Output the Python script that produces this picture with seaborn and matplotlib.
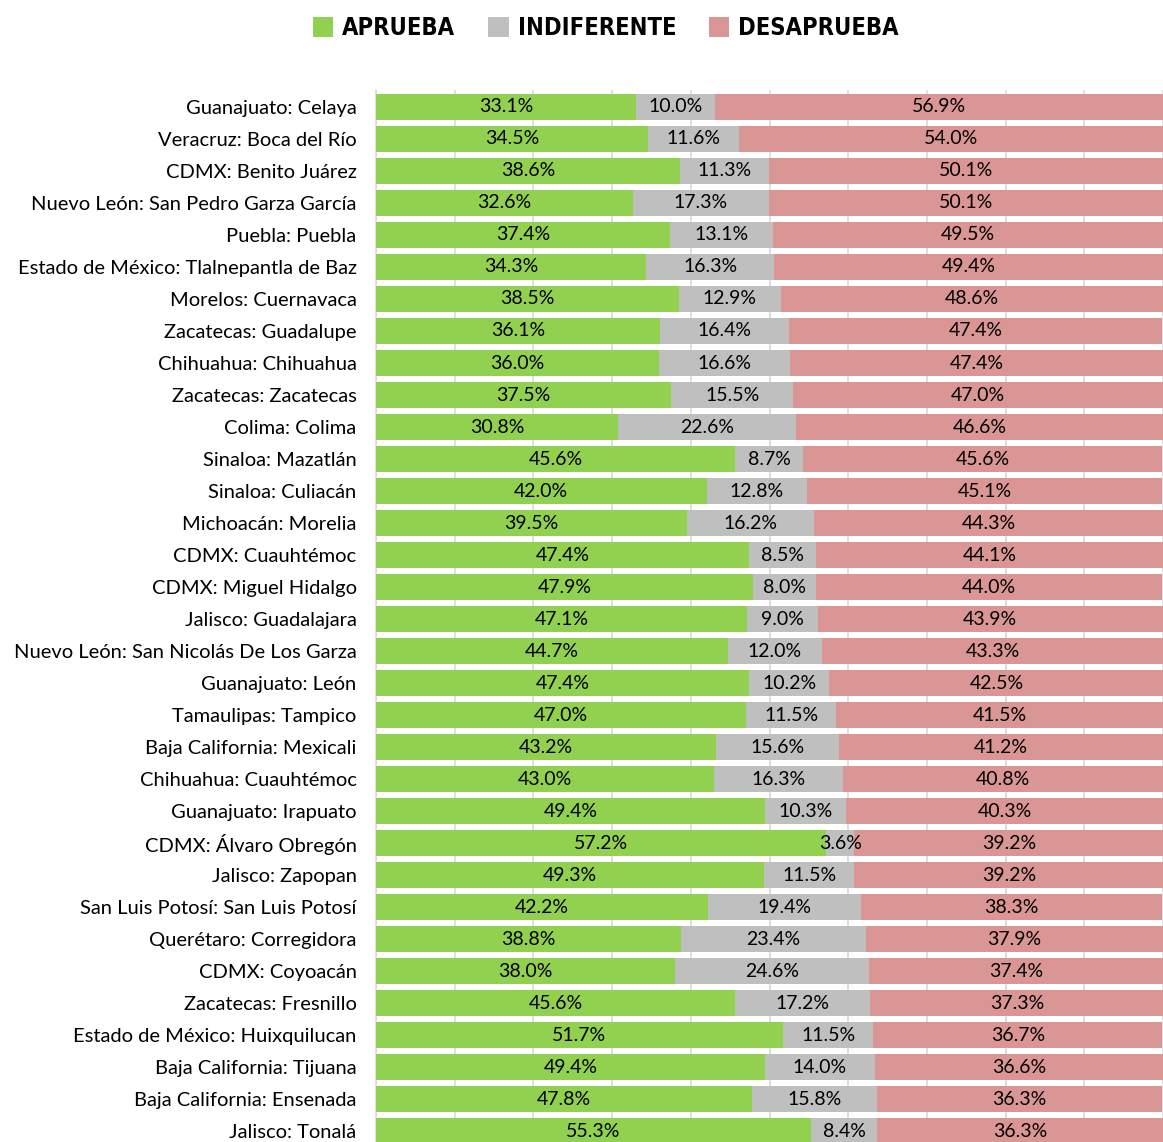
import numpy as np
import pandas as pd
import matplotlib
matplotlib.use("Agg")
import matplotlib.pyplot as plt
from matplotlib.patches import Patch
import seaborn as sns

labels = [
    "Guanajuato: Celaya", "Veracruz: Boca del Río", "CDMX: Benito Juárez",
    "Nuevo León: San Pedro Garza García", "Puebla: Puebla",
    "Estado de México: Tlalnepantla de Baz", "Morelos: Cuernavaca",
    "Zacatecas: Guadalupe", "Chihuahua: Chihuahua", "Zacatecas: Zacatecas",
    "Colima: Colima", "Sinaloa: Mazatlán", "Sinaloa: Culiacán",
    "Michoacán: Morelia", "CDMX: Cuauhtémoc", "CDMX: Miguel Hidalgo",
    "Jalisco: Guadalajara", "Nuevo León: San Nicolás De Los Garza",
    "Guanajuato: León", "Tamaulipas: Tampico", "Baja California: Mexicali",
    "Chihuahua: Cuauhtémoc", "Guanajuato: Irapuato", "CDMX: Álvaro Obregón",
    "Jalisco: Zapopan", "San Luis Potosí: San Luis Potosí",
    "Querétaro: Corregidora", "CDMX: Coyoacán", "Zacatecas: Fresnillo",
    "Estado de México: Huixquilucan", "Baja California: Tijuana",
    "Baja California: Ensenada", "Jalisco: Tonalá",
]
aprueba = [33.1, 34.5, 38.6, 32.6, 37.4, 34.3, 38.5, 36.1, 36.0, 37.5, 30.8,
           45.6, 42.0, 39.5, 47.4, 47.9, 47.1, 44.7, 47.4, 47.0, 43.2, 43.0,
           49.4, 57.2, 49.3, 42.2, 38.8, 38.0, 45.6, 51.7, 49.4, 47.8, 55.3]
indiferente = [10.0, 11.6, 11.3, 17.3, 13.1, 16.3, 12.9, 16.4, 16.6, 15.5, 22.6,
               8.7, 12.8, 16.2, 8.5, 8.0, 9.0, 12.0, 10.2, 11.5, 15.6, 16.3,
               10.3, 3.6, 11.5, 19.4, 23.4, 24.6, 17.2, 11.5, 14.0, 15.8, 8.4]
desaprueba = [56.9, 54.0, 50.1, 50.1, 49.5, 49.4, 48.6, 47.4, 47.4, 47.0, 46.6,
              45.6, 45.1, 44.3, 44.1, 44.0, 43.9, 43.3, 42.5, 41.5, 41.2, 40.8,
              40.3, 39.2, 39.2, 38.3, 37.9, 37.4, 37.3, 36.7, 36.6, 36.3, 36.3]
series_names = ["APRUEBA", "INDIFERENTE", "DESAPRUEBA"]
colors = ["#92D050", "#BFBFBF", "#DA9694"]

df = pd.DataFrame({"label": labels, "A": aprueba, "I": indiferente, "D": desaprueba})
df["AI"] = df["A"] + df["I"]
df["AID"] = df["AI"] + df["D"]

sns.set_theme(style="white")
plt.rcParams["font.family"] = ["Lato", "DejaVu Sans"]
plt.rcParams["text.color"] = "black"

W, H = 1163, 1142
fig = plt.figure(figsize=(W / 100, H / 100), dpi=100)
ax = fig.add_axes([376 / W, 0, 1 - 376 / W, 1 - 90 / H])

for col, c in zip(["AID", "AI", "A"], [colors[2], colors[1], colors[0]]):
    sns.barplot(data=df, x=col, y="label", orient="h", color=c, saturation=1,
                width=0.8, errorbar=None, ax=ax, linewidth=0, zorder=3)

ax.set_xlim(0, 100)
ax.set_ylim(32.34, -0.53)
ax.set_xticks(np.arange(0, 101, 10))
ax.xaxis.grid(True, color="#D9D9D9", linewidth=1.2, zorder=0)
ax.set_axisbelow(True)
ax.set_xticklabels([])
ax.tick_params(axis="x", length=0)
ax.tick_params(axis="y", length=0, pad=14, labelsize=14.5, labelcolor="black")
ax.set_xlabel("")
ax.set_ylabel("")
for s in ["top", "right", "bottom"]:
    ax.spines[s].set_visible(False)
ax.spines["left"].set_color("#D9D9D9")
ax.spines["left"].set_linewidth(1.2)

for i in range(len(labels)):
    a, ind, d = aprueba[i], indiferente[i], desaprueba[i]
    segs = [(0, a), (a, ind), (a + ind, d)]
    for left, val in segs:
        ax.text(left + val / 2, i, f"{val:.1f}%", ha="center", va="center",
                fontsize=14, color="black", zorder=5)

handles = [Patch(facecolor=c, edgecolor="none") for c in colors]
leg = fig.legend(handles, series_names, loc="center", bbox_to_anchor=(606 / W, 1 - 28 / H),
                 ncol=3, frameon=False, handlelength=0.85, handleheight=0.9,
                 handletextpad=0.38, columnspacing=1.4,
                 prop={"family": ["DejaVu Sans"], "weight": "bold",
                       "size": 17, "stretch": "condensed"})
for t in leg.get_texts():
    t.set_color("black")

fig.savefig("out.png", dpi=100)
